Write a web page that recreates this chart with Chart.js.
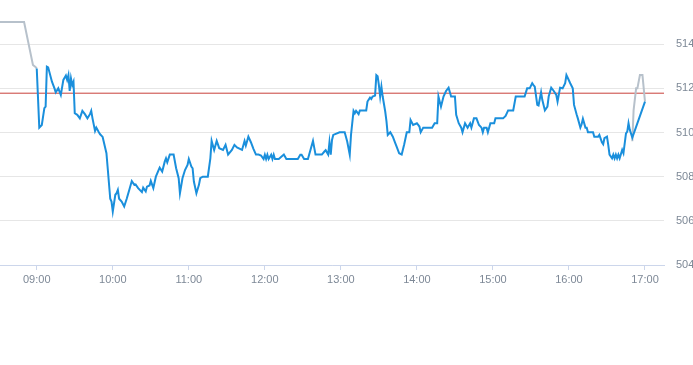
<!DOCTYPE html>
<html lang="en">
<head>
<meta charset="UTF-8">
<title>Intraday</title>
<script src="https://cdn.jsdelivr.net/npm/chart.js"></script>
<style>
    html, body { margin: 0; padding: 0; background: #fff; }
    .chart-container { width: 693px; height: 365px; position: relative; }
</style>
</head>
<body>
<div class="chart-container">
    <canvas id="priceChart"></canvas>
</div>
<script>
// main session (blue)
const tradeTimes = ['09:00','09:02','09:04','09:06','09:07','09:08','09:09','09:12','09:14','09:15','09:17','09:19','09:21','09:23','09:24','09:25','09:26','09:27','09:28','09:29',
    '09:30','09:32','09:34','09:36','09:38','09:40','09:42','09:43','09:44','09:46','09:47','09:49','09:50','09:52','09:55','09:56','09:58','09:59',
    '10:00','10:02','10:03','10:04','10:05','10:07','10:09','10:11','10:13','10:15','10:17','10:18','10:20','10:23','10:24','10:26','10:27','10:29','10:30','10:32','10:34','10:37','10:39','10:41','10:42','10:43','10:45','10:48','10:50','10:52','10:53','10:55','10:57','10:59',
    '11:00','11:02','11:03','11:04','11:06','11:08','11:09','11:11','11:15','11:17','11:18','11:20','11:22','11:24','11:27','11:29','11:31','11:34','11:36','11:38','11:42','11:44','11:45','11:47','11:49','11:51','11:53','11:55','11:57','11:59',
    '12:00','12:01','12:02','12:03','12:05','12:06','12:07','12:08','12:11','12:13','12:15','12:17','12:26','12:28','12:29','12:31','12:34','12:35','12:38','12:40','12:45','12:47','12:48','12:50','12:51','12:52','12:53','12:54','12:59',
    '13:03','13:05','13:07','13:08','13:10','13:11','13:12','13:14','13:15','13:20','13:21','13:23','13:24','13:25','13:27','13:28','13:29','13:30','13:31','13:32','13:33','13:35','13:36','13:37','13:39','13:41','13:43','13:44','13:46','13:48','13:50','13:52','13:54','13:55','13:57',
    '14:00','14:02','14:03','14:05','14:12','14:14','14:16','14:17','14:19','14:21','14:23','14:25','14:27','14:30','14:31','14:33','14:35','14:36','14:38','14:40','14:42','14:43','14:45','14:47','14:49','14:51','14:52','14:53','14:55','14:56','14:58',
    '15:01','15:02','15:08','15:10','15:12','15:16','15:18','15:25','15:27','15:29','15:31','15:32','15:33','15:35','15:36','15:38','15:39','15:41','15:43','15:44','15:46','15:48','15:50','15:51','15:53','15:55','15:57','15:58','15:59',
    '16:01','16:03','16:04','16:06','16:07','16:09','16:10','16:11','16:13','16:14','16:15','16:19','16:20','16:23','16:24','16:26','16:27','16:28','16:30','16:31','16:32','16:34','16:35','16:36','16:37','16:38','16:39','16:40','16:42','16:43','16:45','16:46','16:47','16:48','16:50',
    '17:00'];
const tradePrices = [512.9,510.22,510.34,511.1,511.17,512.98,512.95,512.3,512.0,511.82,512.0,511.7,512.38,512.58,512.38,512.6,511.88,512.45,512.15,512.3,
    510.87,510.8,510.64,510.98,510.83,510.64,510.83,510.98,510.64,510.07,510.22,510.01,509.92,509.8,509.06,508.38,507.0,506.87,
    506.42,507.18,507.25,507.4,507.0,506.87,506.65,507.0,507.4,507.8,507.63,507.65,507.48,507.3,507.5,507.33,507.55,507.6,507.81,507.48,508.0,508.41,508.23,508.68,508.83,508.65,509.0,509.0,508.38,507.93,507.25,507.93,508.3,508.53,
    508.8,508.46,508.38,507.78,507.25,507.63,507.93,508.0,508.0,508.83,509.62,509.21,509.62,509.29,509.21,509.44,509.0,509.21,509.44,509.32,509.21,509.62,509.41,509.81,509.56,509.26,509.0,509.0,508.96,508.8,
    508.99,508.8,508.99,508.8,508.99,508.8,508.99,508.8,508.8,508.9,509.0,508.8,508.8,508.99,508.99,508.8,508.8,509.0,509.62,509.0,509.0,509.14,509.2,509.0,509.56,509.0,509.66,509.89,510.01,
    510.01,509.59,509.0,509.89,510.98,510.87,510.98,510.83,511.0,511.0,511.4,511.58,511.52,511.63,511.67,512.6,512.55,512.15,511.63,512.08,511.63,510.95,510.5,509.89,510.01,509.81,509.51,509.36,509.06,509.0,509.47,510.01,510.01,510.57,510.34,
    510.42,510.27,510.01,510.22,510.22,510.42,510.42,511.63,511.17,511.63,511.88,512.03,511.63,511.63,510.8,510.42,510.22,510.01,510.42,510.22,510.42,510.22,510.64,510.64,510.34,510.22,510.01,510.22,510.22,510.01,510.42,
    510.42,510.64,510.64,510.75,511.0,511.0,511.63,511.63,512.0,512.0,512.23,512.15,512.08,511.25,511.22,511.82,511.47,511.0,511.17,511.63,512.03,511.88,511.7,511.4,512.03,512.0,512.23,512.6,512.48,
    512.23,512.0,511.25,510.83,510.64,510.22,510.37,510.62,510.22,510.22,510.01,510.01,509.81,509.81,509.89,509.56,509.47,509.74,509.81,509.44,509.0,508.83,509.0,508.83,509.0,508.83,509.0,508.83,509.21,509.06,509.96,510.04,510.42,510.12,509.77,
    511.4];

// pre-open and closing auction (grey)
const preTimes = ['08:30','08:50','08:57','08:59','09:00'];
const prePrices = [515.0,515.0,513.06,512.97,512.9];
const auctionTimes = ['16:50','16:51','16:53','16:54','16:56','16:58','17:00'];
const auctionPrices = [509.6,511.0,512.0,512.0,512.6,512.6,511.4];

// reference level (red)
const refPrice = 511.78;

const xTickLabels = ['09:00','10:00','11:00','12:00','13:00','14:00','15:00','16:00','17:00'];
const yTickValues = [504,506,508,510,512,514];
const xMin = '08:31', xMax = '17:15';
const yMin = 504, yMax = 516;

function toMin(t) {
    const p = t.split(':');
    return Number(p[0]) * 60 + Number(p[1]);
}
function pts(times, vals) {
    return times.map((t, i) => ({ x: toMin(t), y: vals[i] }));
}

const labelColor = '#7d8896';
const font = { family: "'Liberation Sans', Arial, sans-serif", size: 11 };

new Chart(document.getElementById('priceChart'), {
    type: 'line',
    data: {
        datasets: [
            { data: pts(tradeTimes, tradePrices), borderColor: '#1a8fdc', borderWidth: 2, pointRadius: 0, tension: 0, order: 0 },
            { data: pts(preTimes, prePrices), borderColor: '#b7c1cb', borderWidth: 2, pointRadius: 0, tension: 0, order: 1 },
            { data: pts(auctionTimes, auctionPrices), borderColor: '#b7c1cb', borderWidth: 2, pointRadius: 0, tension: 0, order: 1 },
            { data: [{ x: toMin('08:00'), y: refPrice }, { x: toMin('18:00'), y: refPrice }], borderColor: '#c8413a', borderWidth: 1, pointRadius: 0, order: 2 }
        ]
    },
    options: {
        animation: false,
        responsive: true,
        maintainAspectRatio: false,
        layout: { padding: { left: 0, right: 0, top: 0, bottom: 70 } },
        plugins: { legend: { display: false }, tooltip: { enabled: false } },
        scales: {
            x: {
                type: 'linear',
                min: toMin(xMin),
                max: toMin(xMax),
                afterBuildTicks: s => { s.ticks = xTickLabels.map(l => ({ value: toMin(l) })); },
                afterFit: s => { s.height = 30; },
                ticks: {
                    color: labelColor, font: font, padding: 3, maxRotation: 0, autoSkip: false,
                    callback: v => {
                        const h = Math.floor(v / 60), m = v % 60;
                        return String(h).padStart(2, '0') + ':' + String(m).padStart(2, '0');
                    }
                },
                grid: { drawOnChartArea: false, drawTicks: true, tickLength: 5, color: '#ccd6eb' },
                border: { color: '#ccd6eb', width: 1 }
            },
            y: {
                position: 'right',
                min: yMin,
                max: yMax,
                afterBuildTicks: s => { s.ticks = yTickValues.map(v => ({ value: v })); },
                afterFit: s => { s.width = 29; s.paddingTop = 0; s.paddingBottom = 0; },
                ticks: { color: labelColor, font: font, padding: 12 },
                grid: { color: '#e6e6e6', drawTicks: false },
                border: { display: false }
            }
        }
    }
});
</script>
</body>
</html>
